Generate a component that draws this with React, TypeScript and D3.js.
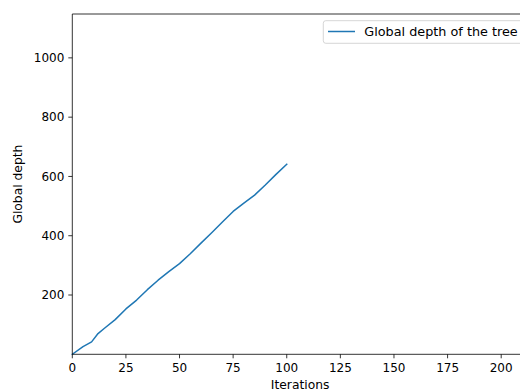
import React from "react";
import * as d3 from "d3";

const iterations = [0, 5, 9, 12, 15, 20, 25, 30, 35, 40, 45, 50, 55, 60, 65, 70, 75, 80, 85, 90, 95, 100];
const depthValues = [0, 26, 42, 70, 88, 117, 153, 183, 218, 250, 279, 306, 339, 375, 410, 446, 482, 510, 537, 571, 607, 641];
const xTicks = [0, 25, 50, 75, 100, 125, 150, 175, 200];
const yTicks = [200, 400, 600, 800, 1000];
const seriesLabel = "Global depth of the tree";
const xLabel = "Iterations";
const yLabel = "Global depth";

export default function App() {
  const W = 520, H = 392;
  const left = 72.3, right = 528, top = 14, bottom = 354.3;
  const x = d3.scaleLinear().domain([0, 212.5]).range([left, right]);
  const y = d3.scaleLinear().domain([0, 1148]).range([bottom, top]);
  const data = iterations.map((it, i) => [it, depthValues[i]] as [number, number]);
  const line = d3.line<[number, number]>().x(d => x(d[0])).y(d => y(d[1]));
  const font = "'DejaVu Sans', sans-serif";
  return (
    <svg width={W} height={H} style={{ position: "absolute", left: 0, top: 0, background: "#fff" }}
      fontFamily={font}>
      <rect x={0} y={0} width={W} height={H} fill="#fff" />
      <path d={line(data) || ""} fill="none" stroke="#1f77b4" strokeWidth={1.5} strokeLinejoin="round" strokeLinecap="square" />
      {/* spines */}
      <line x1={left} x2={left} y1={top} y2={bottom} stroke="#000" strokeWidth={0.8} />
      <line x1={left} x2={right} y1={bottom} y2={bottom} stroke="#000" strokeWidth={0.8} />
      <line x1={left} x2={right} y1={top} y2={top} stroke="#000" strokeWidth={0.8} />
      <line x1={right} x2={right} y1={top} y2={bottom} stroke="#000" strokeWidth={0.8} />
      {xTicks.map(t => (
        <g key={"x" + t}>
          <line x1={x(t)} x2={x(t)} y1={bottom} y2={bottom + 4} stroke="#000" strokeWidth={0.8} />
          <text x={x(t)} y={bottom + 18} fontSize={12} textAnchor="middle" fill="#000">{t}</text>
        </g>
      ))}
      {yTicks.map(t => (
        <g key={"y" + t}>
          <line x1={left - 4} x2={left} y1={y(t)} y2={y(t)} stroke="#000" strokeWidth={0.8} />
          <text x={left - 8} y={y(t)} dy="0.35em" fontSize={12} textAnchor="end" fill="#000">{t}</text>
        </g>
      ))}
      <text x={(left + right) / 2} y={389} fontSize={12.3} textAnchor="middle" fill="#000">{xLabel}</text>
      <text transform={`translate(21.5,${(top + bottom) / 2}) rotate(-90)`} fontSize={12.3} textAnchor="middle" fill="#000">{yLabel}</text>
      {/* legend */}
      <rect x={323.3} y={20.7} width={210} height={22.6} rx={2.5} fill="#fff" fillOpacity={0.8} stroke="#ccc" strokeWidth={0.8} />
      <line x1={328} x2={355} y1={31.5} y2={31.5} stroke="#1f77b4" strokeWidth={1.5} />
      <text x={364.3} y={31.5} dy="0.35em" fontSize={12.8} fill="#000">{seriesLabel}</text>
    </svg>
  );
}
